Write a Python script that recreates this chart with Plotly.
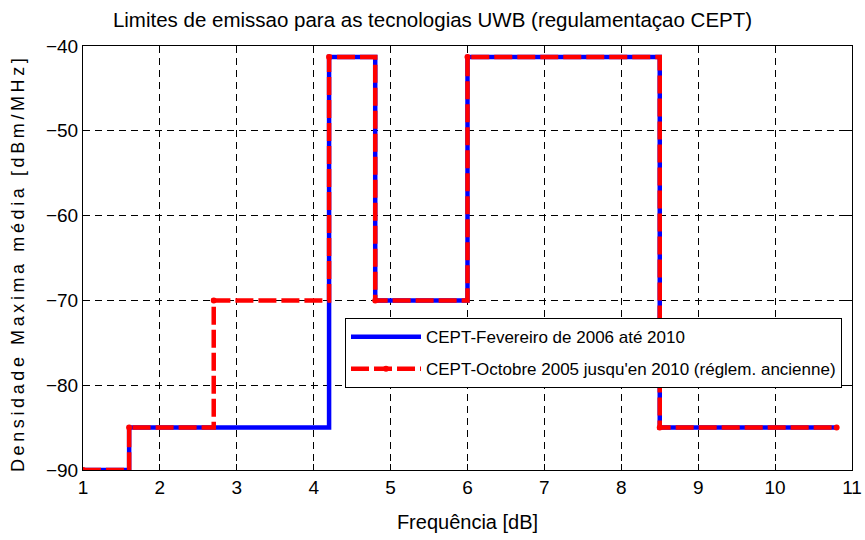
import plotly.graph_objects as go

# Data
freq_new = [1, 1.6, 4.2, 4.8, 6, 8.5, 10.8]
lim_new = [-90, -85, -41.3, -70, -41.3, -85, -85]
freq_old = [1, 1.6, 2.7, 4.2, 4.8, 6, 8.5, 10.8]
lim_old = [-90, -85, -70, -41.3, -70, -41.3, -85, -85]
x_ticks = [1, 2, 3, 4, 5, 6, 7, 8, 9, 10, 11]
y_ticks = [-90, -80, -70, -60, -50, -40]

FONT = "Liberation Sans, Arial, sans-serif"
y_title = "Densidade Maxima média [dBm/MHz]"
y_title_spaced = "\u2009".join(list(y_title))

fig = go.Figure()
fig.add_trace(go.Scatter(
    x=freq_new, y=lim_new, mode="lines", line_shape="hv",
    line=dict(color="#0000ff", width=4.5), legendgroup="a",
    name="CEPT-Fevereiro de 2006 até 2010"))
fig.add_trace(go.Scatter(
    x=freq_old, y=lim_old, mode="lines+markers", line_shape="hv",
    line=dict(color="#ff0000", width=4.5, dash="18px,5px"),
    marker=dict(color="#ff0000", size=6), legendgroup="b",
    name="CEPT-Octobre 2005 jusqu'en 2010 (réglem. ancienne)"))

axis_common = dict(
    showline=True, linecolor="black", linewidth=1, mirror="ticks",
    ticks="inside", ticklen=6, tickcolor="black", automargin=False,
    showgrid=True, gridcolor="black", griddash="7px,5px", gridwidth=0.7,
    zeroline=False, tickfont=dict(size=19, color="black", family=FONT),
)
fig.update_xaxes(range=[1, 11], tickvals=x_ticks,
                 title=dict(text="Frequência [dB]", font=dict(size=20, color="black", family=FONT), standoff=18),
                 **axis_common)
fig.update_yaxes(range=[-90, -40], tickvals=y_ticks, **axis_common)

fig.add_annotation(
    text=y_title_spaced, textangle=-90, showarrow=False,
    xref="paper", yref="paper", x=-(83 - 18) / 769, y=(470 - 265) / 424,
    xanchor="center", yanchor="middle",
    font=dict(size=18, color="black", family=FONT))

fig.update_layout(
    width=865, height=540,
    margin=dict(l=83, r=13, t=46, b=70, autoexpand=False),
    paper_bgcolor="white", plot_bgcolor="white",
    font=dict(family=FONT, color="black"),
    title=dict(text="Limites de emissao para as tecnologias UWB (regulamentaçao CEPT)",
               x=0.5, xanchor="center", y=0.963, yanchor="middle",
               font=dict(size=20.5, color="black", family=FONT)),
    legend=dict(x=0.987, xanchor="right", y=0.193, yanchor="bottom",
                bgcolor="white", bordercolor="black", borderwidth=1,
                font=dict(size=17, color="black", family=FONT),
                itemwidth=70, traceorder="grouped", tracegroupgap=7),
    showlegend=True,
)

fig.write_html("out.html")
